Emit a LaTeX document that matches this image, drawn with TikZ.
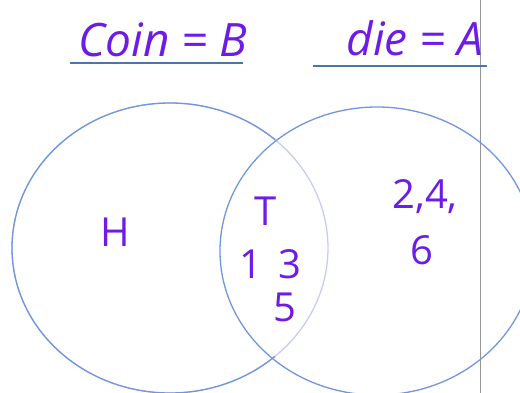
\documentclass[tikz,border=0pt]{standalone}
\usepackage{fontspec}
\setmainfont{Open Sans}
\definecolor{ink}{RGB}{108,28,230}
\definecolor{ring}{RGB}{112,150,222}
\definecolor{ringlight}{RGB}{200,205,240}
\definecolor{rule}{RGB}{70,120,175}
\definecolor{edge}{RGB}{150,150,150}
\begin{document}
\begin{tikzpicture}[x=1pt,y=-1pt,
  hand/.style={text=ink,font=\fontsize{40}{40}\selectfont,inner sep=0pt},
  title/.style={text=ink,font=\itshape\fontsize{46}{46}\selectfont,inner sep=0pt},
  venn/.style={draw=ring,line width=1.3pt},
  uline/.style={draw=rule,line width=1.3pt}]
\useasboundingbox (0,0) rectangle (520,393);
% page edge
\coordinate (et) at (480,0);
\coordinate (eb) at (480,393);
\draw[edge,line width=0.6pt] (et) -- (eb);
% titles
\node[title] (coin) at (163,40) {Coin = B};
\node[title] (die) at (415,38) {die = A};
\coordinate (u1a) at (70,63);
\coordinate (u1b) at (243,63);
\coordinate (u2a) at (313,66);
\coordinate (u2b) at (487,66);
\draw[uline] (u1a) -- (u1b);
\draw[uline] (u2a) -- (u2b);
% circles
\draw[draw=ringlight,line width=1.3pt] (170,248) ellipse [x radius=158, y radius=145];
\begin{scope}
\clip (0,0) rectangle (275,393);
\draw[venn] (170,248) ellipse [x radius=158, y radius=145];
\end{scope}
\draw[venn] (377,251) ellipse [x radius=157, y radius=144];
% labels
\node[hand] (h) at (115,232) {H};
\node[hand] (t) at (266,211) {T};
\node[hand] (odd13) at (270,264) {1\hspace{16pt}3};
\node[hand] (five) at (285,307) {5};
\node[hand] (even) at (425,197) {2,4,};
\node[hand] (six) at (422,250) {6};
\end{tikzpicture}
\end{document}
